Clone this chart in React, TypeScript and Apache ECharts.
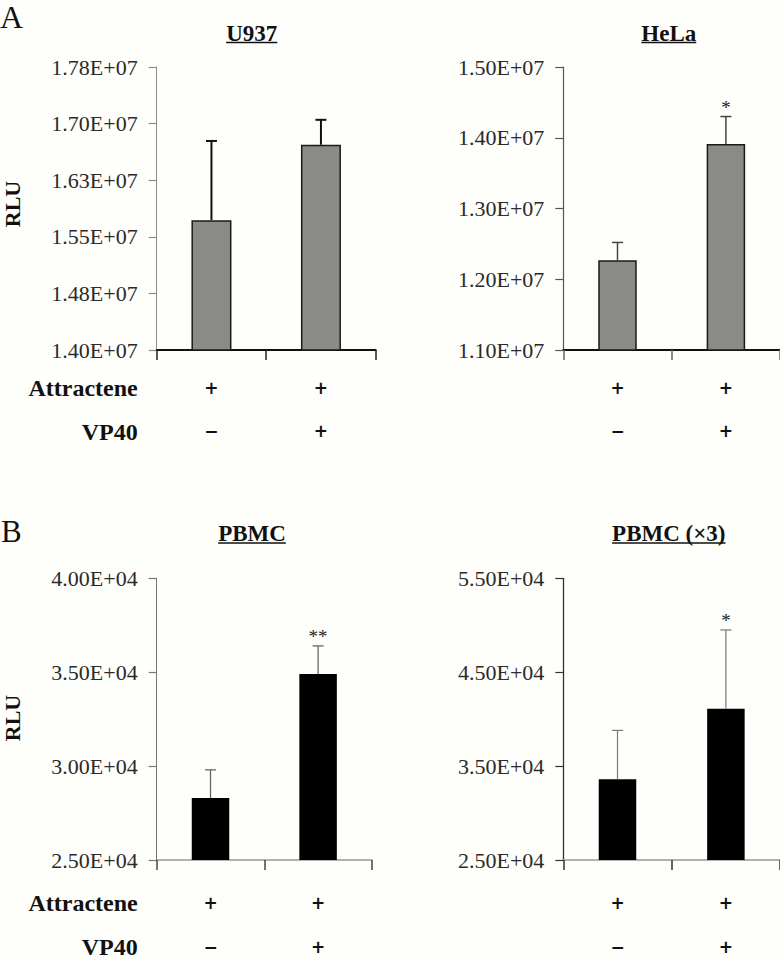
import { useEffect, useRef } from 'react';
import * as echarts from 'echarts';

// ---- data ----
const attractene = ['+', '+'];
const vp40 = ['−', '+'];

const u937Mean = [1.572e7, 1.672e7];
const u937Err = [1.05e6, 3.3e5];
const u937Sig = ['', ''];
const u937Ticks = [1.4e7, 1.475e7, 1.55e7, 1.625e7, 1.7e7, 1.775e7];

const helaMean = [1.227e7, 1.391e7];
const helaErr = [2.5e5, 3.9e5];
const helaSig = ['', '*'];
const helaTicks = [1.1e7, 1.2e7, 1.3e7, 1.4e7, 1.5e7];

const pbmcMean = [28300, 34900];
const pbmcErr = [1500, 1500];
const pbmcSig = ['', '**'];
const pbmcTicks = [25000, 30000, 35000, 40000];

const pbmc3Mean = [33600, 41100];
const pbmc3Err = [5200, 8400];
const pbmc3Sig = ['', '*'];
const pbmc3Ticks = [25000, 35000, 45000, 55000];

const panelTitles = ['U937', 'HeLa', 'PBMC', 'PBMC (×3)'];
const panelLetters = ['A', 'B'];
const rowLabels = ['Attractene', 'VP40'];
const yName = 'RLU';

const FONT = 'Liberation Serif, Times New Roman, serif';
const SIGN_FONT = 'DejaVu Sans, sans-serif';

function fmtExp(v: number) {
  const [m, e] = v.toExponential(2).split('e');
  const sign = e[0];
  const d = e.slice(1).padStart(2, '0');
  return `${m}E${sign}${d}`;
}

function measure(text: string, font: string) {
  const c = document.createElement('canvas').getContext('2d')!;
  c.font = font;
  return c.measureText(text).width;
}

// ---- layout / styling (not data) ----
const panels = [
  {
    mean: u937Mean, err: u937Err, sig: u937Sig, ticks: u937Ticks,
    grid: { left: 156.7, top: 67, width: 219, height: 283 },
    barColor: '#8a8a86', barBorder: '#1a1a1a', barBorderW: 1.5,
    errColor: '#111', errW: 2,
    yLine: '#8c8c8c', yLineW: 1, xLine: '#111', xLineW: 2, xTick: '#222',
    labelMargin: 16.3, barWidth: 40,
  },
  {
    mean: helaMean, err: helaErr, sig: helaSig, ticks: helaTicks,
    grid: { left: 563.3, top: 67, width: 216.8, height: 283 },
    barColor: '#8a8a86', barBorder: '#1a1a1a', barBorderW: 1.5,
    errColor: '#444', errW: 1.5,
    yLine: '#555', yLineW: 1.2, xLine: '#111', xLineW: 2, xTick: '#666',
    labelMargin: 16.3, barWidth: 38.5,
  },
  {
    mean: pbmcMean, err: pbmcErr, sig: pbmcSig, ticks: pbmcTicks,
    grid: { left: 156.7, top: 578.3, width: 215.2, height: 281.7 },
    barColor: '#000', barBorder: '#000', barBorderW: 0,
    errColor: '#666', errW: 1.3,
    yLine: '#777', yLineW: 1, xLine: '#999', xLineW: 1.5, xTick: '#444',
    labelMargin: 21.6, barWidth: 37.5,
  },
  {
    mean: pbmc3Mean, err: pbmc3Err, sig: pbmc3Sig, ticks: pbmc3Ticks,
    grid: { left: 563.3, top: 578.3, width: 216.8, height: 281.7 },
    barColor: '#000', barBorder: '#000', barBorderW: 0,
    errColor: '#777', errW: 1.2,
    yLine: '#333', yLineW: 1.3, xLine: '#999', xLineW: 1.5, xTick: '#333',
    labelMargin: 21.6, barWidth: 37.5,
  },
];

const titlePos = [
  { x: 251.7, y: 33 },
  { x: 668.8, y: 33 },
  { x: 252, y: 533.5 },
  { x: 668.8, y: 533.5 },
];

export default function App() {
  const ref = useRef<HTMLDivElement>(null);

  useEffect(() => {
    document.body.style.margin = '0';
    document.body.style.background = '#fefefb';
    const chart = echarts.init(ref.current!, null, { renderer: 'svg' });

    const cats = attractene.map((a, i) => `${a}\n${vp40[i]}`);

    const grid: any[] = [];
    const xAxis: any[] = [];
    const yAxis: any[] = [];
    const series: any[] = [];

    panels.forEach((p, i) => {
      grid.push({ ...p.grid, containLabel: false, outerBoundsMode: 'none' });
      xAxis.push({
        type: 'category',
        gridIndex: i,
        data: cats,
        axisLine: { show: true, lineStyle: { color: p.xLine, width: p.xLineW } },
        axisTick: { show: true, length: 10, lineStyle: { color: p.xTick, width: 1.5 } },
        axisLabel: {
          interval: 0,
          margin: p.labelMargin,
          fontFamily: SIGN_FONT,
          fontWeight: 'bold',
          fontSize: 17,
          lineHeight: 43.4,
          color: '#111',
        },
        splitLine: { show: false },
      });
      const mn = p.ticks[0];
      const mx = p.ticks[p.ticks.length - 1];
      yAxis.push({
        type: 'value',
        gridIndex: i,
        min: mn,
        max: mx,
        interval: p.ticks[1] - p.ticks[0],
        axisLine: { show: true, lineStyle: { color: p.yLine, width: p.yLineW } },
        axisTick: { show: true, length: 8, lineStyle: { color: p.yLine, width: 1.2 }, customValues: p.ticks },
        axisLabel: {
          margin: 19,
          fontFamily: FONT,
          fontSize: 22,
          color: '#2a2a2a',
          formatter: (v: number) => fmtExp(v),
          customValues: p.ticks,
        },
        splitLine: { show: false },
      });
      series.push({
        type: 'bar',
        xAxisIndex: i,
        yAxisIndex: i,
        data: p.mean,
        barWidth: p.barWidth,
        itemStyle: { color: p.barColor, borderColor: p.barBorder, borderWidth: p.barBorderW },
        z: 2,
      });
      const sig = p.sig;
      series.push({
        type: 'custom',
        xAxisIndex: i,
        yAxisIndex: i,
        clip: false,
        z: 3,
        data: p.mean.map((m, k) => [k, m, p.err[k]]),
        renderItem: (params: any, api: any) => {
          const x = api.value(0);
          const m = api.value(1);
          const e = api.value(2);
          const p0 = api.coord([x, m]);
          const p1 = api.coord([x, m + e]);
          const children: any[] = [
            {
              type: 'line',
              shape: { x1: p0[0], y1: p0[1], x2: p1[0], y2: p1[1] },
              style: { stroke: p.errColor, lineWidth: p.errW },
            },
            {
              type: 'line',
              shape: { x1: p1[0] - 5.5, y1: p1[1], x2: p1[0] + 5.5, y2: p1[1] },
              style: { stroke: p.errColor, lineWidth: p.errW },
            },
          ];
          const s = sig[params.dataIndex];
          if (s) {
            children.push({
              type: 'text',
              style: {
                text: s,
                x: p1[0],
                y: p1[1] - 9,
                align: 'center',
                verticalAlign: 'middle',
                fontFamily: FONT,
                fontSize: 19,
                fill: '#222',
              },
            });
          }
          return { type: 'group', children };
        },
      });
    });

    const graphic: any[] = [];
    graphic.push({
      type: 'text', x: 0, y: 17,
      style: { text: panelLetters[0], fontFamily: FONT, fontSize: 32, fill: '#111', verticalAlign: 'middle' },
    });
    graphic.push({
      type: 'text', x: 1, y: 531,
      style: { text: panelLetters[1], fontFamily: FONT, fontSize: 31, fill: '#111', verticalAlign: 'middle' },
    });
    panelTitles.forEach((t, i) => {
      const font = `bold 23px ${FONT}`;
      const w = measure(t, font);
      const pos = titlePos[i];
      graphic.push({
        type: 'text', x: pos.x, y: pos.y,
        style: { text: t, fontFamily: FONT, fontWeight: 'bold', fontSize: 23, fill: '#111', align: 'center', verticalAlign: 'middle' },
      });
      graphic.push({
        type: 'line',
        shape: { x1: pos.x - w / 2, y1: pos.y + 9.5, x2: pos.x + w / 2, y2: pos.y + 9.5 },
        style: { stroke: '#111', lineWidth: 1.5 },
      });
    });
    const rowYs = [[388, 431.7], [903.3, 946.7]];
    rowYs.forEach((ys) => {
      ys.forEach((y, k) => {
        graphic.push({
          type: 'text', x: 137.7, y,
          style: { text: rowLabels[k], fontFamily: FONT, fontWeight: 'bold', fontSize: 24, fill: '#111', align: 'right', verticalAlign: 'middle' },
        });
      });
    });
    [204, 718].forEach((y) => {
      graphic.push({
        type: 'text', x: 12.7, y, rotation: Math.PI / 2,
        style: { text: yName, fontFamily: FONT, fontWeight: 'bold', fontSize: 22, fill: '#111', align: 'center', verticalAlign: 'middle' },
      });
    });

    chart.setOption({
      animation: false,
      backgroundColor: '#fefefb',
      grid,
      xAxis,
      yAxis,
      series,
      graphic,
    });

    return () => chart.dispose();
  }, []);

  return <div ref={ref} style={{ position: 'fixed', left: 0, top: 0, width: 780, height: 960 }} />;
}
